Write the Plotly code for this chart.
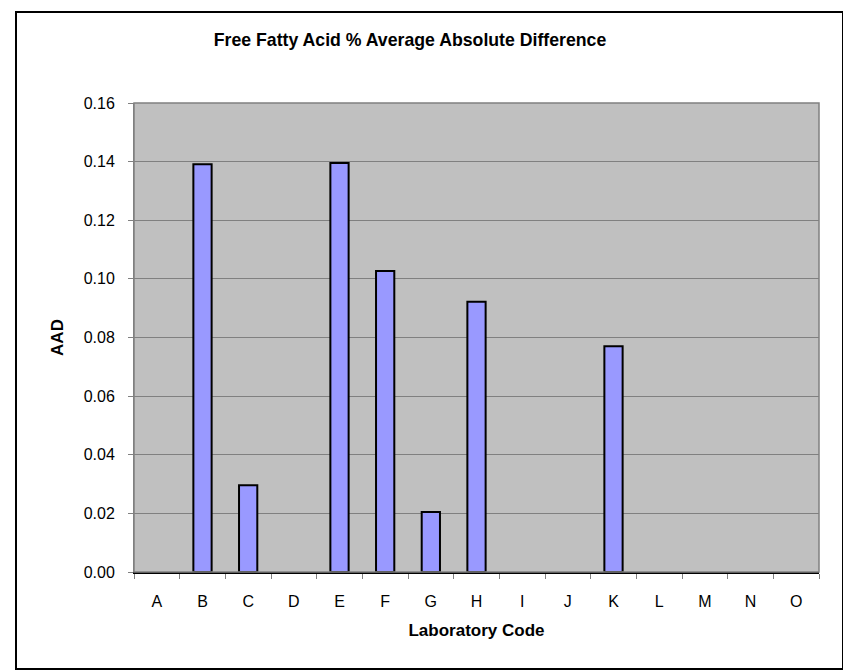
import plotly.graph_objects as go

labs = ["A", "B", "C", "D", "E", "F", "G", "H", "I", "J", "K", "L", "M", "N", "O"]
aad = [None, 0.1391, 0.0296, None, 0.1395, 0.1027, 0.0205, 0.0922, None, None, 0.0770, None, None, None, None]
y_ticks = [0, 0.02, 0.04, 0.06, 0.08, 0.10, 0.12, 0.14, 0.16]

# page body has an 8px margin, so the figure is sized/placed 8px in
W, H = 843, 663
L, R, T, B = 126, 32, 95, 99
pw, ph = W - L - R, H - T - B

fig = go.Figure(go.Bar(
    x=labs, y=aad, width=0.4,
    marker=dict(color="#9999FF", line=dict(color="black", width=2)),
))

fnt = "Liberation Sans, Arial, sans-serif"
fig.update_layout(
    width=W, height=H,
    margin=dict(l=L, r=R, t=T, b=B),
    paper_bgcolor="white", plot_bgcolor="#C0C0C0",
    showlegend=False,
    font=dict(family=fnt, color="black", size=16),
    title=dict(text="<b>Free Fatty Acid % Average Absolute Difference</b>",
               font=dict(size=17.7), x=(402 - L) / pw, xref="paper",
               xanchor="center", y=1 - 32 / H, yanchor="middle"),
)
fig.update_xaxes(
    type="category", range=[-0.5, 14.5],
    ticks="outside", tickson="boundaries", ticklen=5, tickcolor="#808080",
    showline=True, linecolor="black", linewidth=2, mirror=False,
    showgrid=False, tickfont=dict(size=16), ticklabelstandoff=14,
    title=dict(text="<b>Laboratory Code</b>", font=dict(size=17), standoff=15),
)
fig.update_yaxes(
    range=[0, 0.16], tickvals=y_ticks, tickformat=".2f",
    ticks="outside", ticklen=5, tickcolor="#808080",
    showline=True, linecolor="#808080", linewidth=1,
    showgrid=True, gridcolor="#808080", gridwidth=1, zeroline=False,
    tickfont=dict(size=16), ticklabelstandoff=10,
    title=dict(text="<b>AAD</b>", font=dict(size=17), standoff=15),
)
# plot area frame (top / right)
fig.add_shape(type="rect", xref="paper", yref="paper", x0=0, x1=1, y0=0, y1=1,
              line=dict(color="#808080", width=1.5), layer="above")
# outer chart border
fig.add_shape(type="rect", xref="paper", yref="paper",
              x0=(8 - L) / pw, x1=(835 - L) / pw,
              y0=-(661 - T - ph) / ph, y1=1 + (T - 4) / ph,
              line=dict(color="black", width=2))

fig.write_html("out.html")
